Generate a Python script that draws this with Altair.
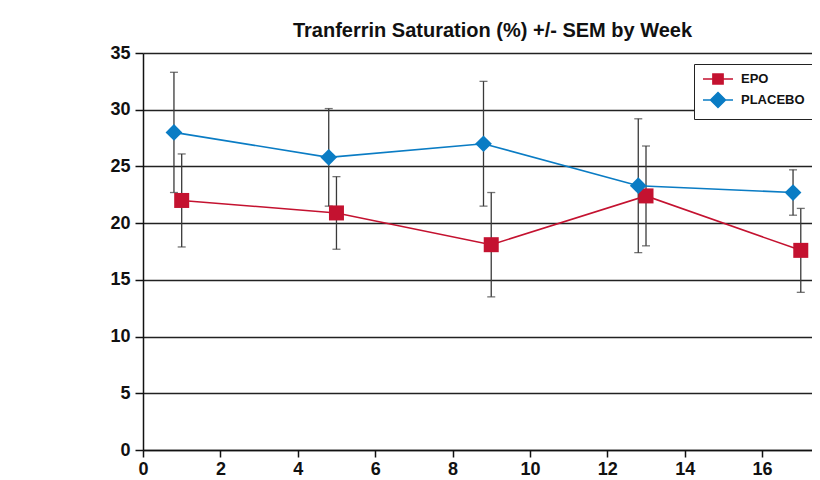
import altair as alt
import pandas as pd

weeks_epo = [1, 5, 9, 13, 17]
epo_mean = [22.0, 20.9, 18.1, 22.4, 17.6]
epo_sem = [4.1, 3.2, 4.6, 4.4, 3.7]

weeks_placebo = [0.8, 4.8, 8.8, 12.8, 16.8]
placebo_mean = [28.0, 25.8, 27.0, 23.3, 22.7]
placebo_sem = [5.3, 4.3, 5.5, 5.9, 2.0]

groups = ["EPO", "PLACEBO"]
x_ticks = [0, 2, 4, 6, 8, 10, 12, 14, 16]
y_ticks = [0, 5, 10, 15, 20, 25, 30, 35]

rows = []
for w, m, s in zip(weeks_epo, epo_mean, epo_sem):
    rows.append({"Group": "EPO", "Week": w, "Mean": m, "Lo": m - s, "Hi": m + s})
for w, m, s in zip(weeks_placebo, placebo_mean, placebo_sem):
    rows.append({"Group": "PLACEBO", "Week": w, "Mean": m, "Lo": m - s, "Hi": m + s})
df = pd.DataFrame(rows)

FONT = "Liberation Sans"
RED = "#C41230"
BLUE = "#0A7CC4"

xs = alt.Scale(domain=[0, 17.29], nice=False, zero=False)
ys = alt.Scale(domain=[0, 35], nice=False)


def cscale():
    return alt.Scale(domain=groups, range=[RED, BLUE])


x_enc = alt.X("Week:Q", scale=xs,
              axis=alt.Axis(values=x_ticks, title=None, grid=False, format="d",
                            labelFlush=False))
y_enc = alt.Y("Mean:Q", scale=ys,
              axis=alt.Axis(values=y_ticks, title=None, grid=True, format="d",
                            labelFlush=False))

base = alt.Chart(df)

err = base.mark_rule(strokeWidth=1.3, color="#3a3a3a").encode(
    x=x_enc, y=alt.Y("Lo:Q", scale=ys), y2="Hi:Q")
cap_hi = base.mark_tick(orient="horizontal", size=8, thickness=1.3, color="#3a3a3a").encode(
    x=x_enc, y=alt.Y("Hi:Q", scale=ys))
cap_lo = base.mark_tick(orient="horizontal", size=8, thickness=1.3, color="#3a3a3a").encode(
    x=x_enc, y=alt.Y("Lo:Q", scale=ys))

lines = base.mark_line(strokeWidth=1.6).encode(
    x=x_enc, y=y_enc,
    color=alt.Color("Group:N", scale=cscale(), legend=None),
    detail="Group:N")

points = base.mark_point(filled=True, opacity=1).encode(
    x=x_enc, y=y_enc,
    color=alt.Color("Group:N", scale=cscale(), legend=None),
    shape=alt.Shape("Group:N", scale=alt.Scale(domain=groups, range=["square", "diamond"]),
                    legend=None),
    size=alt.Size("Group:N", scale=alt.Scale(domain=groups, range=[225, 280]), legend=None),
)

# legend symbols: a line through a square / diamond
legend_paths = ["M-2.5,0H2.5M-0.85,-0.85H0.85V0.85H-0.85Z",
                "M-2.5,0H2.5M0,-1.25L1.25,0L0,1.25L-1.25,0Z"]
leg = alt.Legend(
    title=None, orient="none", legendX=551, legendY=11,
    strokeColor="#222", fillColor="white", padding=8,
    symbolSize=144, symbolOffset=9, labelOffset=16, rowPadding=1,
    symbolStrokeWidth=1.5, symbolOpacity=1,
    labelFont=FONT, labelFontWeight="bold", labelFontSize=13, labelColor="#111")

legend_layer = base.transform_filter("false").mark_point(
    filled=True, size=144, strokeWidth=1.5, opacity=1).encode(
    x=x_enc, y=y_enc,
    color=alt.Color("Group:N", scale=cscale(), legend=leg),
    stroke=alt.Stroke("Group:N", scale=cscale(), legend=leg),
    shape=alt.Shape("Group:N", scale=alt.Scale(domain=groups, range=legend_paths), legend=leg),
)

chart = alt.layer(err, cap_hi, cap_lo, lines, points, legend_layer).resolve_scale(
    color="independent", shape="independent", stroke="independent", size="independent"
).properties(
    width=669, height=397,
    autosize=alt.AutoSizeParams(type="none"),
    padding={"left": 135, "top": 45, "right": 0, "bottom": 27},
    title=alt.TitleParams("Tranferrin Saturation (%) +/- SEM by Week",
                          font=FONT, fontSize=20, fontWeight="bold", color="#111",
                          anchor="middle", frame="group", dx=15, offset=3),
).configure_view(stroke=None).configure_axis(
    labelFont=FONT, labelFontWeight="bold", labelFontSize=18, labelColor="#111",
    domainColor="#111", domainWidth=1.5, tickColor="#111", tickWidth=1.5, tickSize=8,
    labelPadding=5, gridColor="#222", gridWidth=1.6,
).configure_axisX(labelPadding=3, tickSize=7)

chart.save("out.html", embed_options={"renderer": "svg", "actions": False})
